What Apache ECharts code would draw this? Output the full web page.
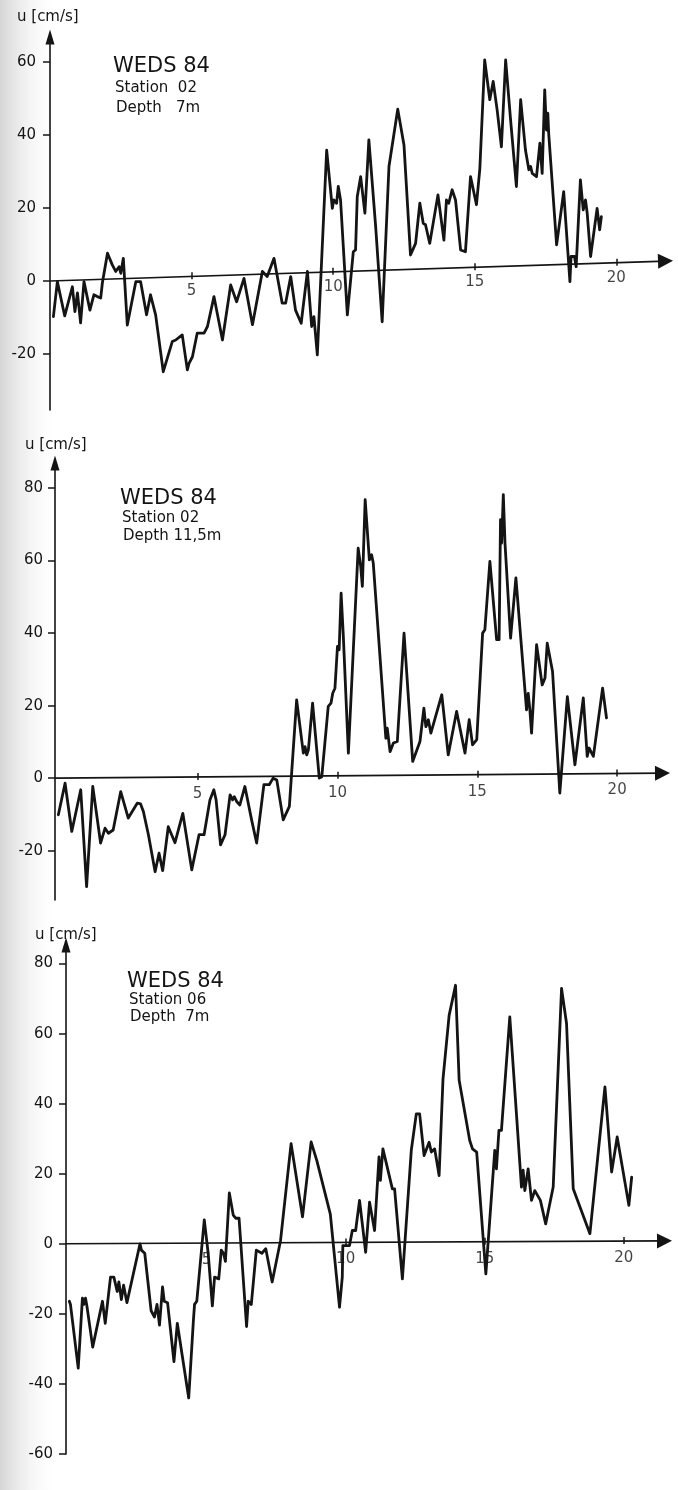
<!DOCTYPE html>
<html><head><meta charset="utf-8">
<script src="https://cdn.jsdelivr.net/npm/echarts@6/dist/echarts.min.js"></script>
<style>html,body{margin:0;padding:0;background:#fff}#c{width:678px;height:1490px}</style>
</head><body><div id="c"></div>
<script>
// ---- Panel 1: Station 02, depth 7 m ----
const p1Days = [0.12,0.26,0.52,0.79,0.88,0.97,1.08,1.20,1.41,1.55,1.67,1.79,1.85,2.03,2.20,2.32,2.44,2.50,2.59,2.73,3.03,3.20,3.41,3.55,3.73,4.00,4.32,4.44,4.67,4.85,4.91,5.03,5.20,5.44,5.56,5.79,6.09,6.38,6.59,6.85,7.15,7.50,7.67,7.91,8.20,8.32,8.50,8.67,8.87,9.09,9.24,9.32,9.44,9.77,9.97,10.02,10.12,10.18,10.26,10.50,10.71,10.79,10.85,10.97,11.12,11.26,11.50,11.73,11.97,12.28,12.50,12.73,12.91,13.06,13.18,13.26,13.41,13.70,13.91,14.00,14.08,14.20,14.32,14.50,14.67,14.85,15.06,15.18,15.35,15.53,15.65,15.79,15.94,16.09,16.26,16.47,16.62,16.79,16.91,16.97,17.03,17.18,17.30,17.38,17.47,17.53,17.58,17.61,17.89,18.14,18.20,18.36,18.40,18.52,18.58,18.73,18.83,18.91,18.97,19.09,19.32,19.41,19.47];
const p1U = [-9.8,-0.2,-9.6,-1.6,-8.4,-3.3,-11.5,-0.2,-8.0,-3.8,-4.3,-4.7,-0.5,7.6,4.4,2.6,3.9,2.1,6.2,-12.1,-0.2,-0.2,-9.3,-3.8,-9.3,-24.9,-16.6,-16.2,-14.8,-24.4,-22.6,-20.8,-14.3,-14.3,-12.5,-4.3,-16.2,-1.1,-5.7,0.7,-12.0,2.6,1.2,6.2,-6.1,-6.1,1.2,-8.0,-11.6,2.6,-12.5,-9.8,-20.3,35.9,19.9,22.2,21.3,25.9,22.2,-9.3,8.0,8.5,23.1,28.6,18.6,38.7,14.9,-11.2,31.4,47.1,37.3,7.1,10.3,21.3,15.8,15.4,10.3,23.6,11.2,22.2,21.3,25.0,22.2,8.5,8.0,28.6,20.9,30.9,60.6,49.7,54.7,46.9,36.8,60.6,44.6,25.9,49.7,35.9,30.5,31.4,29.5,28.6,37.8,29.5,52.4,41.4,46.0,40.5,9.9,24.5,24.1,-0.2,6.7,6.7,3.9,27.7,19.5,22.2,18.6,6.7,19.9,14.0,17.6];

// ---- Panel 2: Station 02, depth 11,5 m ----
const p2Days = [0.02,0.26,0.50,0.82,1.03,1.25,1.53,1.69,1.81,1.98,2.25,2.52,2.84,2.96,3.06,3.24,3.48,3.62,3.75,3.95,4.19,4.47,4.79,5.05,5.23,5.44,5.58,5.66,5.82,5.98,6.16,6.25,6.31,6.40,6.51,6.69,6.93,7.11,7.37,7.56,7.70,7.83,8.06,8.28,8.54,8.78,8.84,8.90,8.96,9.11,9.35,9.44,9.67,9.77,9.83,9.91,9.95,10.00,10.06,10.13,10.21,10.39,10.74,10.83,10.89,10.99,11.14,11.22,11.28,11.73,11.78,11.88,12.00,12.14,12.38,12.69,12.95,13.09,13.16,13.25,13.34,13.73,13.96,14.26,14.56,14.71,14.83,14.98,15.19,15.27,15.45,15.69,15.78,15.83,15.87,15.93,15.99,16.19,16.38,16.76,16.82,16.88,16.94,17.12,17.32,17.42,17.50,17.69,17.95,18.22,18.49,18.79,18.93,19.00,19.15,19.48,19.62];
const p2U = [-10.1,-1.4,-14.7,-3.2,-29.9,-2.3,-17.9,-13.8,-15.2,-14.3,-3.7,-11.0,-6.9,-7.1,-9.2,-15.6,-25.8,-20.7,-25.5,-13.4,-17.8,-9.7,-25.3,-15.6,-15.6,-6.0,-3.2,-6.0,-18.4,-15.6,-4.6,-6.0,-5.1,-6.5,-7.4,-2.3,-11.5,-17.9,-1.8,-1.8,0.0,-0.5,-11.5,-7.8,21.6,6.9,8.7,6.4,7.8,20.7,0.0,0.4,19.8,20.7,23.4,24.8,29.9,36.3,35.4,51.0,39.1,6.9,63.4,58.4,52.9,76.8,60.2,61.6,59.3,11.0,13.8,7.3,9.7,10.1,40.0,4.6,10.1,19.3,14.2,16.1,12.4,23.0,6.4,18.4,6.9,16.1,9.2,10.6,40.0,40.9,59.8,38.2,38.2,71.3,64.8,78.2,64.8,38.6,55.2,18.8,23.4,18.8,12.4,36.8,25.7,27.6,37.2,29.4,-4.1,22.5,3.7,22.1,6.0,8.3,6.0,24.8,16.6];

// ---- Panel 3: Station 06, depth 7 m ----
const p3Days = [0.07,0.11,0.39,0.54,0.59,0.65,0.70,0.91,1.26,1.36,1.55,1.67,1.79,1.85,1.94,2.02,2.14,2.61,2.66,2.78,3.01,3.13,3.22,3.31,3.42,3.48,3.60,3.83,3.95,4.36,4.53,4.57,4.65,4.92,5.06,5.21,5.29,5.44,5.53,5.61,5.68,5.82,5.96,6.05,6.17,6.44,6.50,6.61,6.79,6.99,7.13,7.36,7.66,8.04,8.45,8.76,8.97,9.45,9.78,9.88,9.90,10.14,10.24,10.36,10.50,10.72,10.86,11.04,11.20,11.25,11.34,11.68,11.76,12.04,12.36,12.54,12.66,12.82,13.00,13.08,13.20,13.36,13.50,13.72,13.95,14.08,14.46,14.56,14.71,15.04,15.36,15.42,15.51,15.60,15.90,16.32,16.38,16.44,16.56,16.68,16.80,17.00,17.19,17.46,17.76,17.94,18.18,18.78,19.32,19.56,19.76,20.18,20.28];
const p3U = [-16.4,-17.3,-35.5,-15.5,-17.3,-15.5,-17.7,-29.5,-16.4,-22.7,-9.5,-9.5,-13.6,-10.9,-15.9,-11.8,-16.8,0.0,-1.8,-2.7,-19.1,-20.9,-17.3,-23.2,-12.3,-16.4,-16.8,-33.6,-22.7,-44.0,-21.8,-17.3,-16.4,6.8,-2.7,-17.7,-9.5,-10.0,-1.8,-2.7,-5.0,14.5,8.2,7.3,7.3,-23.6,-16.4,-17.3,-1.8,-2.7,-1.4,-10.9,0.9,28.6,7.7,29.1,23.6,8.5,-18.1,-9.5,-0.5,-0.5,3.8,3.8,12.4,-2.4,11.9,3.8,24.8,18.1,27.1,15.7,15.7,-10.0,26.7,37.1,37.1,25.2,29.0,26.2,27.1,19.5,47.1,65.2,73.8,46.7,29.5,27.1,26.2,-8.6,26.7,21.4,32.4,32.4,64.8,16.2,21.0,15.2,21.4,12.4,15.2,12.4,5.7,16.2,72.9,62.9,15.7,2.9,44.8,20.5,30.5,11.0,19.0];

// ---- tick labels ----
const yTicks1 = [-20, 0, 20, 40, 60];
const yTicks2 = [-20, 0, 20, 40, 60, 80];
const yTicks3 = [-60, -40, -20, 0, 20, 40, 60, 80];
const xTicks = [5, 10, 15, 20];
const xTickLabels = ['5', '10', '15', '20'];
const yAxisName = 'u [cm/s]';
const titles = [
  ['WEDS 84', 'Station  02', 'Depth   7m'],
  ['WEDS 84', 'Station 02', 'Depth 11,5m'],
  ['WEDS 84', 'Station 06', 'Depth  7m']
];

// ---- layout (pixels / axis extents) ----
const FONT = '"DejaVu Sans", "Liberation Sans", sans-serif';
const INK = '#141414';
const panels = [
  { days: p1Days, u: p1U, yTicks: yTicks1, grid: { left: 50, top: 37, width: 623, height: 373 },
    xMin: 0, xMax: 22.0, yMin: -35.4, yMax: 66.9, tilt: 5.5, margin: 14, labDist: 7,
    name: [17, 19], title: [113, 69, 90, 110] },
  { days: p2Days, u: p2U, yTicks: yTicks2, grid: { left: 55, top: 463, width: 615, height: 437 },
    xMin: -0.1, xMax: 21.89, yMin: -33.6, yMax: 86.9, tilt: 1.4, margin: 12, labDist: 9,
    name: [25, 447], title: [120, 501, 520, 538] },
  { days: p3Days, u: p3U, yTicks: yTicks3, grid: { left: 66, top: 945, width: 606, height: 509 },
    xMin: -0.05, xMax: 21.73, yMin: -60, yMax: 85.3, tilt: 0.86, margin: 13, labDist: 9,
    name: [35, 937], title: [127, 984, 1002, 1019] }
];

const grids = [], xAxes = [], yAxes = [], series = [], graphics = [];
graphics.push({ type: 'rect', z: -10, silent: true, shape: { x: 0, y: 0, width: 60, height: 1490 },
  style: { fill: new echarts.graphic.LinearGradient(0, 0, 1, 0, [
    { offset: 0, color: 'rgba(150,150,150,0.40)' }, { offset: 1, color: 'rgba(255,255,255,0)' }]) } });

panels.forEach((p, i) => {
  grids.push(Object.assign({ containLabel: false }, p.grid));
  const pxPerX = p.grid.width / (p.xMax - p.xMin);
  const pxPerY = p.grid.height / (p.yMax - p.yMin);
  const axisAt = t => p.tilt * (t - p.xMin) / (p.xMax - p.xMin);
  xAxes.push({ type: 'value', gridIndex: i, min: p.xMin, max: p.xMax, show: false });
  yAxes.push({
    type: 'value', gridIndex: i, min: p.yMin, max: p.yMax,
    axisLine: { show: true, onZero: false, lineStyle: { color: INK, width: 1.6 },
      symbol: ['none', 'triangle'], symbolSize: [9, 15] },
    axisTick: { show: true, length: 7, customValues: p.yTicks, lineStyle: { color: INK, width: 1.5 } },
    axisLabel: { customValues: p.yTicks, margin: p.margin, fontSize: 15, fontFamily: FONT, color: INK },
    splitLine: { show: false }
  });
  // data curve
  series.push({ type: 'line', xAxisIndex: i, yAxisIndex: i, symbol: 'none', animation: false,
    data: p.days.map((d, k) => [d, p.u[k]]),
    lineStyle: { color: INK, width: 2.8, join: 'round', cap: 'round' }, z: 5 });
  // (slightly tilted) time axis with arrow
  const endX = p.xMax - 7.5 / pxPerX;
  series.push({ type: 'lines', coordinateSystem: 'cartesian2d', xAxisIndex: i, yAxisIndex: i,
    silent: true, animation: false, symbol: ['none', 'triangle'], symbolSize: [9, 15],
    lineStyle: { color: INK, width: 1.6, opacity: 1, curveness: 0 },
    data: [{ coords: [[p.xMin, 0], [endX, axisAt(endX)]] }], z: 4 });
  // time-axis ticks
  series.push({ type: 'lines', coordinateSystem: 'cartesian2d', xAxisIndex: i, yAxisIndex: i,
    silent: true, animation: false, symbol: ['none', 'none'],
    lineStyle: { color: INK, width: 1.5, opacity: 1 },
    data: xTicks.map(t => ({ coords: [[t, axisAt(t) + 4 / pxPerY], [t, axisAt(t) - 3 / pxPerY]] })), z: 4 });
  // time-axis tick labels
  series.push({ type: 'scatter', xAxisIndex: i, yAxisIndex: i, silent: true, animation: false,
    symbolSize: 1, itemStyle: { color: 'rgba(0,0,0,0)' },
    data: xTicks.map(t => [t, axisAt(t)]),
    label: { show: true, position: 'bottom', distance: p.labDist, fontSize: 15, fontFamily: FONT, color: INK,
      formatter: q => xTickLabels[q.dataIndex] }, z: 4 });
  // texts
  graphics.push({ type: 'text', left: p.name[0], top: p.name[1] - 9,
    style: { text: yAxisName, font: '15px ' + FONT, fill: INK } });
  graphics.push({ type: 'text', left: p.title[0], top: p.title[1] - 13,
    style: { text: titles[i][0], font: '21px ' + FONT, fill: INK } });
  graphics.push({ type: 'text', left: p.title[0] + 2, top: p.title[2] - 9,
    style: { text: titles[i][1], font: '15px ' + FONT, fill: INK } });
  graphics.push({ type: 'text', left: p.title[0] + 3, top: p.title[3] - 9,
    style: { text: titles[i][2], font: '15px ' + FONT, fill: INK } });
});

const chart = echarts.init(document.getElementById('c'), null, { renderer: 'canvas' });
chart.setOption({
  backgroundColor: '#ffffff',
  animation: false,
  grid: grids, xAxis: xAxes, yAxis: yAxes, series: series, graphic: graphics
});
</script></body></html>
